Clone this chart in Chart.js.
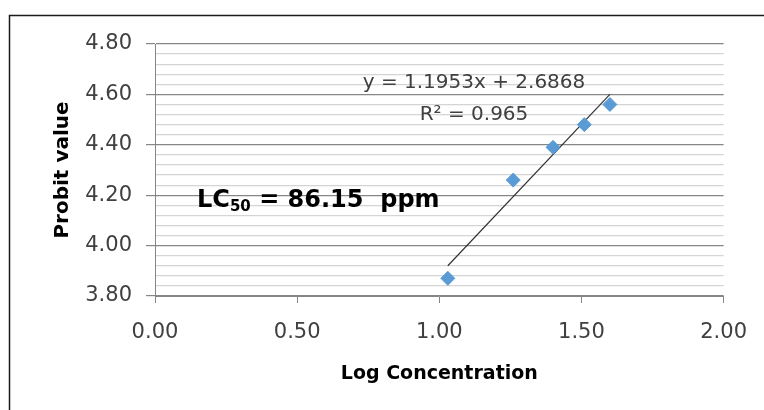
<!DOCTYPE html>
<html>
<head>
<meta charset="utf-8">
<script src="https://cdn.jsdelivr.net/npm/chart.js@4/dist/chart.umd.min.js"></script>
<style>
  html, body { margin: 0; padding: 0; background: #fff; }
  #wrap { width: 764px; height: 410px; position: relative; }
</style>
</head>
<body>
<div id="wrap"><canvas id="probit"></canvas></div>
<script>
// probit regression
const logConc = [1.03, 1.26, 1.40, 1.51, 1.60];
const probit = [3.87, 4.26, 4.39, 4.48, 4.56];
const trendX = [1.03, 1.60];
const trendY = [3.92, 4.60];
const xTicks = [0, 0.5, 1, 1.5, 2];
const equationText = 'y = 1.1953x + 2.6868';
const rSquaredText = 'R² = 0.965';

const isMajor = v => Math.abs(v * 5 - Math.round(v * 5)) < 1e-6;

// frame + annotation texts
const extras = {
    id: 'extras',
    afterDraw(chart) {
        const ctx = chart.ctx;
        ctx.save();
        ctx.strokeStyle = '#1a1a1a';
        ctx.lineWidth = 1.5;
        ctx.beginPath();
        ctx.moveTo(9.5, 410);
        ctx.lineTo(9.5, 15.5);
        ctx.lineTo(764, 15.5);
        ctx.stroke();

        ctx.fillStyle = '#404040';
        ctx.font = '20px "DejaVu Sans"';
        ctx.textAlign = 'center';
        ctx.textBaseline = 'middle';
        ctx.fillText(equationText, 474, 83);
        ctx.fillText(rSquaredText, 474, 115);

        // LC50 label
        ctx.fillStyle = '#000';
        ctx.textAlign = 'left';
        ctx.textBaseline = 'alphabetic';
        let x = 197;
        ctx.font = 'bold 24px "DejaVu Sans"';
        ctx.fillText('LC', x, 207);
        x += ctx.measureText('LC').width;
        ctx.font = 'bold 15px "DejaVu Sans"';
        ctx.fillText('50', x, 211);
        x += ctx.measureText('50').width;
        ctx.font = 'bold 24px "DejaVu Sans"';
        ctx.fillText(' = 86.15  ppm', x, 207);
        ctx.restore();
    }
};

new Chart(document.getElementById('probit'), {
    type: 'scatter',
    data: {
        datasets: [{
            data: logConc.map((v, i) => ({ x: v, y: probit[i] })),
            backgroundColor: '#5B9BD5',
            borderColor: '#5B9BD5',
            pointStyle: 'rectRot',
            pointRadius: 7,
            pointHoverRadius: 7,
            order: 1
        }, {
            type: 'line',
            data: trendX.map((v, i) => ({ x: v, y: trendY[i] })),
            borderColor: '#333333',
            borderWidth: 1.2,
            pointRadius: 0,
            fill: false,
            order: 2
        }]
    },
    options: {
        responsive: true,
        maintainAspectRatio: false,
        animation: false,
        layout: { padding: { left: 0, top: 44, right: 37, bottom: 0 } },
        plugins: { legend: { display: false }, tooltip: { enabled: false } },
        scales: {
            x: {
                type: 'linear',
                min: 0,
                max: 2,
                afterBuildTicks: s => { s.ticks = xTicks.map(v => ({ value: v })); },
                afterFit: s => { s.height = 114; },
                ticks: {
                    callback: v => Number(v).toFixed(2),
                    color: '#404040',
                    font: { family: 'DejaVu Sans', size: 21 },
                    padding: 17,
                    maxRotation: 0
                },
                grid: { drawOnChartArea: false, tickLength: 7, color: '#868686' },
                border: { color: '#868686' },
                title: {
                    display: true,
                    text: 'Log Concentration',
                    color: '#000',
                    font: { family: 'DejaVu Sans', size: 19, weight: 'bold' },
                    padding: { top: 0, bottom: 25 }
                }
            },
            y: {
                min: 3.8,
                max: 4.8,
                afterFit: s => { s.width = 155; },
                ticks: {
                    stepSize: 0.04,
                    autoSkip: false,
                    callback: v => isMajor(v) ? Number(v).toFixed(2) : '',
                    color: '#404040',
                    font: { family: 'DejaVu Sans', size: 21 },
                    padding: 14
                },
                grid: {
                    tickLength: 9,
                    color: c => isMajor(c.tick.value) ? '#868686' : '#d4d4d4',
                    tickColor: c => isMajor(c.tick.value) ? '#868686' : 'rgba(0,0,0,0)',
                    lineWidth: 1.2
                },
                border: { color: '#868686' },
                title: {
                    display: true,
                    text: 'Probit value',
                    color: '#000',
                    font: { family: 'DejaVu Sans', size: 20, weight: 'bold' },
                    padding: { top: 51, bottom: 0 }
                }
            }
        }
    },
    plugins: [extras]
});
</script>
</body>
</html>
